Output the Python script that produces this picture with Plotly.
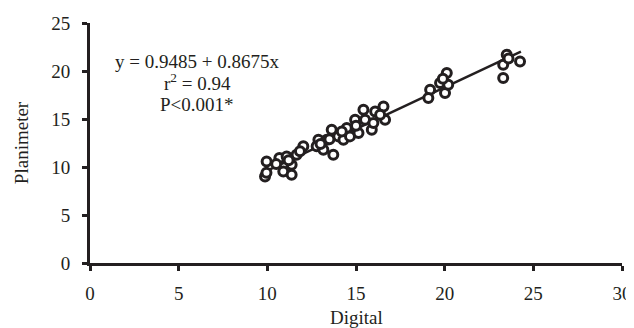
import plotly.graph_objects as go

digital = [9.96, 9.87, 9.95, 10.68, 11.09, 10.9, 11.37, 11.37, 11.65, 12.03, 11.84, 10.5, 11.2,
           12.88, 12.78, 13.16, 13.35, 13.63, 13.72, 14.0, 14.29, 14.48, 14.66, 14.95, 15.14,
           15.42, 15.51, 15.89, 16.08, 16.55, 16.64, 15.98, 16.36, 13.0, 13.5, 14.2, 15.0,
           19.18, 19.08, 19.74, 20.12, 20.02, 20.2, 19.9,
           23.5, 23.3, 24.25, 23.3, 23.6]
planimeter = [10.58, 9.02, 9.4, 10.94, 11.1, 9.54, 9.2, 10.24, 11.28, 12.15, 11.63, 10.3, 10.7,
              12.84, 12.15, 11.8, 12.84, 13.89, 11.28, 13.19, 12.84, 14.06, 13.19, 14.93, 13.54,
              15.97, 14.93, 13.89, 15.79, 16.31, 14.93, 14.58, 15.45, 12.4, 12.9, 13.7, 14.3,
              18.05, 17.19, 18.75, 19.79, 17.71, 18.57, 19.2,
              21.7, 20.66, 21.0, 19.27, 21.3]

intercept = 0.9485
slope = 0.8675
fit_x = [10.0, 24.3]
fit_y = [intercept + slope * v for v in fit_x]

stats_text = ["y = 0.9485 + 0.8675x", "r<sup>2</sup> = 0.94", "P<0.001*"]
stats_y = [20.97, 18.9, 16.56]

x_title = "Digital"
y_title = "Planimeter"

ink = "#231f20"
font = "Liberation Serif"
fs = 19

fig = go.Figure()
fig.add_trace(go.Scatter(x=fit_x, y=fit_y, mode="lines",
                         line=dict(color=ink, width=2.5), showlegend=False, hoverinfo="skip"))
fig.add_trace(go.Scatter(x=digital, y=planimeter, mode="markers",
                         marker=dict(symbol="circle", size=9, color="white",
                                     line=dict(color=ink, width=3)),
                         showlegend=False))

for txt, yy in zip(stats_text, stats_y):
    fig.add_annotation(x=6.05, y=yy, xref="x", yref="y", text=txt, showarrow=False,
                       font=dict(family=font, size=fs, color=ink))

fig.add_annotation(x=15, y=0, xref="x", yref="paper", yanchor="middle", yshift=-54,
                   text=x_title, showarrow=False, font=dict(family=font, size=fs, color=ink))

fig.update_layout(
    width=626, height=320,
    margin=dict(l=82, r=12, t=15, b=65),
    paper_bgcolor="white", plot_bgcolor="white",
    font=dict(family=font, size=fs, color=ink),
    xaxis=dict(range=[0, 30], tickvals=[0, 5, 10, 15, 20, 25, 30], showgrid=False, zeroline=False,
               showline=True, linecolor=ink, linewidth=3, ticks="outside", ticklen=5,
               tickwidth=3, tickcolor=ink, ticklabelstandoff=6, automargin=False,
               ticklabeloverflow="allow"),
    yaxis=dict(range=[0, 25], tickvals=[0, 5, 10, 15, 20, 25], showgrid=False, zeroline=False,
               showline=True, linecolor=ink, linewidth=3, ticks="outside", ticklen=5,
               tickwidth=3, tickcolor=ink, ticklabelstandoff=8, automargin=False,
               title=dict(text=y_title, standoff=18, font=dict(family=font, size=fs, color=ink))),
)

fig.write_html("out.html")
